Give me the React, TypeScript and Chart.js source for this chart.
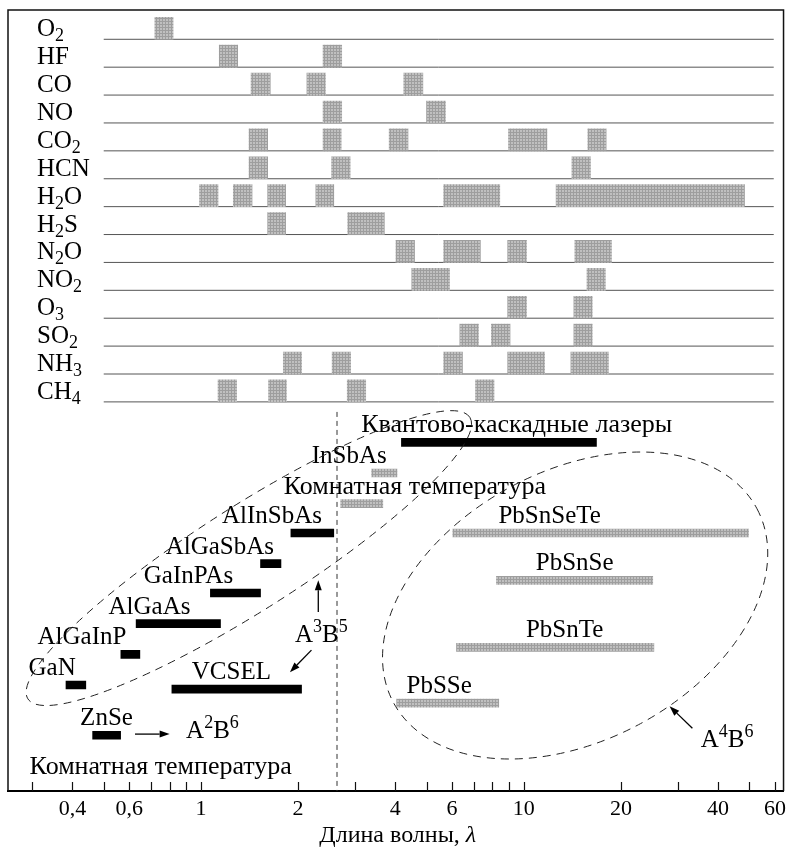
import React, { useEffect, useRef } from 'react';
import { Chart, registerables } from 'chart.js';

Chart.register(...registerables);

const SERIF = "'Liberation Serif', 'DejaVu Serif', serif";

// Wavelength axis, µm
const X_MIN = 0.2526;
const X_MAX = 63.8;
const TICK_VALUES = [0.3, 0.4, 0.5, 0.6, 0.7, 0.8, 0.9, 1, 2, 3, 4, 5, 6, 7, 8, 9, 10, 20, 30, 40, 50, 60];
const LABELLED_TICKS = [0.4, 0.6, 1, 2, 4, 6, 10, 20, 40, 60];

// Absorption bands of gases ("_" marks a subscript)
const GASES = ['O_2', 'HF', 'CO', 'NO', 'CO_2', 'HCN', 'H_2O', 'H_2S', 'N_2O', 'NO_2', 'O_3', 'SO_2', 'NH_3', 'CH_4'];
const GAS_BANDS: [number, number][][] = [
  [[0.72, 0.82]],
  [[1.14, 1.3], [2.39, 2.73]],
  [[1.43, 1.64], [2.13, 2.43], [4.25, 4.87]],
  [[2.39, 2.73], [5.0, 5.72]],
  [[1.41, 1.61], [2.39, 2.72], [3.83, 4.38], [8.97, 11.8], [15.8, 18.0]],
  [[1.41, 1.61], [2.54, 2.9], [14.1, 16.1]],
  [[0.99, 1.13], [1.26, 1.44], [1.61, 1.83], [2.27, 2.58], [5.65, 8.43], [12.6, 48.3]],
  [[1.61, 1.83], [2.85, 3.7]],
  [[4.02, 4.59], [5.65, 7.34], [8.92, 10.2], [14.4, 18.7]],
  [[4.5, 5.89], [15.7, 17.9]],
  [[8.92, 10.2], [14.3, 16.3]],
  [[6.34, 7.24], [7.94, 9.07], [14.3, 16.3]],
  [[1.8, 2.05], [2.55, 2.91], [5.65, 6.46], [8.92, 11.6], [14.0, 18.3]],
  [[1.13, 1.29], [1.62, 1.84], [2.84, 3.24], [7.09, 8.09]],
];
const GAS_LINE_SPAN: [number, number] = [0.5, 59.5];

// Laser emission ranges, µm
const LASERS = [
  'Квантово-каскадные лазеры', 'InSbAs', 'Комнатная температура', 'AlInSbAs', 'AlGaSbAs',
  'GaInPAs', 'AlGaAs', 'AlGaInP', 'GaN', 'VCSEL', 'ZnSe',
  'PbSnSeTe', 'PbSnSe', 'PbSnTe', 'PbSSe',
];
const LASER_FROM = [4.18, 3.38, 2.71, 1.9, 1.53, 1.07, 0.63, 0.565, 0.382, 0.813, 0.462, 6.03, 8.23, 6.19, 4.04];
const LASER_TO = [16.8, 4.05, 3.66, 2.58, 1.77, 1.53, 1.15, 0.647, 0.44, 2.05, 0.564, 49.7, 25.1, 25.3, 8.37];
const LASER_LANE = [15.45, 16.55, 17.65, 18.7, 19.8, 20.85, 21.95, 23.05, 24.15, 24.3, 25.95, 18.7, 20.4, 22.8, 24.8];
const LASER_GREY = [false, true, true, false, false, false, false, false, false, false, false, true, true, true, true];
const LASER_LABEL_AT = [9.51, 2.88, 4.6, 1.66, 1.145, 0.915, 0.693, 0.428, 0.346, 1.243, 0.51, 12.03, 14.38, 13.39, 5.47];

// Room-temperature boundary
const DIVIDER_AT = 2.64;
const DIVIDER_LANES: [number, number] = [14.36, 27.95];

// Group notes, arrows and outlines, in (µm, lane) coordinates
const NOTES = [
  { text: 'A^3B^5', at: [2.36, 22.61] },
  { text: 'A^2B^6', at: [1.086, 26.05] },
  { text: 'A^4B^6', at: [42.66, 26.38] },
  { text: 'Комнатная температура', at: [0.751, 27.34] },
];
const ARROWS = [
  { from: [2.31, 21.53], to: [2.31, 20.39] },
  { from: [2.2, 22.9], to: [1.887, 23.69] },
  { from: [0.625, 25.91], to: [0.8, 25.91] },
  { from: [33.3, 25.7], to: [28.3, 24.91] },
];
const OUTLINES = [
  { center: [1.408, 19.6], rx: 262, ry: 52, rot: -32.5 },
  { center: [14.43, 21.3], rx: 206, ry: 135, rot: -28 },
];

const LANE_MIN = -0.05;
const LANE_MAX = 27.95;
const BAND_LIFT = 0.394;

type Seg = { t: string; k: 0 | 1 | 2 };

function parseMarkup(s: string): Seg[] {
  const out: Seg[] = [];
  for (let i = 0; i < s.length; i++) {
    const c = s[i];
    if ((c === '_' || c === '^') && i + 1 < s.length) {
      out.push({ t: s[i + 1], k: c === '_' ? 1 : 2 });
      i++;
    } else if (out.length && out[out.length - 1].k === 0) {
      out[out.length - 1].t += c;
    } else {
      out.push({ t: c, k: 0 });
    }
  }
  return out;
}

// Cyrillic captions are set a touch larger to match the width of the Latin ones
function sizeFor(s: string, base: number): number {
  return /[А-яЁё]/.test(s) ? base + 1 : base;
}

function drawRich(ctx: CanvasRenderingContext2D, s: string, x: number, y: number, align: 'left' | 'center', base: number) {
  const size = sizeFor(s, base);
  const segs = parseMarkup(s);
  const big = `${size}px ${SERIF}`;
  const small = `${Math.round(size * 0.7)}px ${SERIF}`;
  const widths = segs.map((g) => {
    ctx.font = g.k === 0 ? big : small;
    return ctx.measureText(g.t).width;
  });
  const total = widths.reduce((a, b) => a + b, 0);
  let cx = align === 'center' ? x - total / 2 : x;
  ctx.textAlign = 'left';
  ctx.textBaseline = 'alphabetic';
  segs.forEach((g, i) => {
    ctx.font = g.k === 0 ? big : small;
    const dy = g.k === 1 ? size * 0.2 : g.k === 2 ? -size * 0.4 : 0;
    ctx.fillText(g.t, cx, y + dy);
    cx += widths[i];
  });
}

function makeTexture(): CanvasPattern | string {
  const c = document.createElement('canvas');
  c.width = 3;
  c.height = 3;
  const g = c.getContext('2d');
  if (!g) return '#b0b0b0';
  g.fillStyle = '#c0c0c0';
  g.fillRect(0, 0, 3, 3);
  g.fillStyle = '#9e9e9e';
  g.fillRect(0, 0, 3, 1);
  g.fillRect(0, 0, 1, 3);
  return g.createPattern(c, 'repeat') || '#b0b0b0';
}

const overlay = {
  id: 'overlay',
  afterDatasetsDraw(chart: any) {
    const { ctx, chartArea } = chart;
    const xs = chart.scales.x;
    const ys = chart.scales.y;
    const X = (v: number) => xs.getPixelForValue(v);
    const Y = (v: number) => ys.getPixelForValue(v);
    ctx.save();

    // frame
    ctx.strokeStyle = '#111';
    ctx.lineWidth = 1.5;
    ctx.setLineDash([]);
    ctx.beginPath();
    ctx.moveTo(chartArea.left, chartArea.bottom);
    ctx.lineTo(chartArea.left, chartArea.top);
    ctx.lineTo(chartArea.right, chartArea.top);
    ctx.lineTo(chartArea.right, chartArea.bottom);
    ctx.stroke();

    // inward tick marks
    ctx.lineWidth = 1.2;
    for (const t of xs.ticks) {
      const px = Math.round(X(t.value)) + 0.5;
      ctx.beginPath();
      ctx.moveTo(px, chartArea.bottom);
      ctx.lineTo(px, chartArea.bottom - 9);
      ctx.stroke();
    }

    ctx.fillStyle = '#000';
    // gas names
    GASES.forEach((g, i) => drawRich(ctx, g, chartArea.left + 29, Y(i + 1) - 3, 'left', 25));
    // laser names
    LASERS.forEach((n, i) => drawRich(ctx, n, X(LASER_LABEL_AT[i]), Y(LASER_LANE[i]) - 10, 'center', 25));
    // group notes
    NOTES.forEach((n) => drawRich(ctx, n.text, X(n.at[0]), Y(n.at[1]), 'center', 25));

    // outlines
    ctx.strokeStyle = '#222';
    ctx.lineWidth = 1;
    ctx.setLineDash([8, 6]);
    OUTLINES.forEach((o) => {
      ctx.beginPath();
      ctx.ellipse(X(o.center[0]), Y(o.center[1]), o.rx, o.ry, (o.rot * Math.PI) / 180, 0, Math.PI * 2);
      ctx.stroke();
    });
    ctx.setLineDash([]);

    // arrows
    ctx.strokeStyle = '#000';
    ctx.fillStyle = '#000';
    ctx.lineWidth = 1.3;
    ARROWS.forEach((a) => {
      const x0 = X(a.from[0]);
      const y0 = Y(a.from[1]);
      const x1 = X(a.to[0]);
      const y1 = Y(a.to[1]);
      const ang = Math.atan2(y1 - y0, x1 - x0);
      const len = 10;
      const hw = 3.5;
      const bx = x1 - len * Math.cos(ang);
      const by = y1 - len * Math.sin(ang);
      ctx.beginPath();
      ctx.moveTo(x0, y0);
      ctx.lineTo(bx, by);
      ctx.stroke();
      ctx.beginPath();
      ctx.moveTo(x1, y1);
      ctx.lineTo(bx + hw * Math.sin(ang), by - hw * Math.cos(ang));
      ctx.lineTo(bx - hw * Math.sin(ang), by + hw * Math.cos(ang));
      ctx.closePath();
      ctx.fill();
    });

    // axis title with italic lambda
    const main = 'Длина волны, ';
    ctx.font = `24px ${SERIF}`;
    const w1 = ctx.measureText(main).width;
    ctx.font = `italic 24px ${SERIF}`;
    const w2 = ctx.measureText('λ').width;
    const tx = (chartArea.left + chartArea.right) / 2 + 2 - (w1 + w2) / 2;
    ctx.textAlign = 'left';
    ctx.textBaseline = 'alphabetic';
    ctx.font = `24px ${SERIF}`;
    ctx.fillText(main, tx, 842);
    ctx.font = `italic 24px ${SERIF}`;
    ctx.fillText('λ', tx + w1, 842);

    ctx.restore();
  },
};

function fmt(v: number): string {
  return String(v).replace('.', ',');
}

export default function App() {
  const ref = useRef<HTMLCanvasElement | null>(null);

  useEffect(() => {
    const canvas = ref.current;
    if (!canvas) return;
    const texture = makeTexture();

    const rowLines = GASES.map((_, i) => ({
      type: 'line' as const,
      indexAxis: 'y' as const,
      data: [
        { x: GAS_LINE_SPAN[0], y: i + 1 },
        { x: GAS_LINE_SPAN[1], y: i + 1 },
      ],
      borderColor: '#555',
      borderWidth: 1,
      pointRadius: 0,
      order: 3,
    }));

    const divider = {
      type: 'line' as const,
      indexAxis: 'y' as const,
      data: [
        { x: DIVIDER_AT, y: DIVIDER_LANES[0] },
        { x: DIVIDER_AT, y: DIVIDER_LANES[1] },
      ],
      borderColor: '#333',
      borderWidth: 1,
      borderDash: [5, 4],
      pointRadius: 0,
      order: 3,
    };

    const bands = {
      type: 'bar' as const,
      indexAxis: 'y' as const,
      stack: 'all',
      data: GAS_BANDS.flatMap((list, i) => list.map(([a, b]) => ({ x: [a, b], y: i + 1 - BAND_LIFT }))),
      backgroundColor: texture,
      borderWidth: 0,
      barThickness: 22,
      order: 1,
    };

    const laserIdx = LASERS.map((_, i) => i);
    const lasersDark = {
      type: 'bar' as const,
      indexAxis: 'y' as const,
      stack: 'all',
      data: laserIdx.filter((i) => !LASER_GREY[i]).map((i) => ({ x: [LASER_FROM[i], LASER_TO[i]], y: LASER_LANE[i] })),
      backgroundColor: '#000',
      borderWidth: 0,
      barThickness: 8,
      order: 1,
    };
    const lasersGrey = {
      type: 'bar' as const,
      indexAxis: 'y' as const,
      stack: 'all',
      data: laserIdx.filter((i) => LASER_GREY[i]).map((i) => ({ x: [LASER_FROM[i], LASER_TO[i]], y: LASER_LANE[i] })),
      backgroundColor: texture,
      borderWidth: 0,
      barThickness: 8,
      order: 1,
    };

    const chart = new Chart(canvas, {
      type: 'bar',
      data: { datasets: [...rowLines, divider, bands, lasersDark, lasersGrey] as any },
      options: {
        animation: false,
        responsive: false,
        devicePixelRatio: 1,
        layout: { padding: { left: 8, top: 10, right: 7, bottom: 0 }, autoPadding: false },
        plugins: { legend: { display: false }, tooltip: { enabled: false } },
        scales: {
          x: {
            type: 'logarithmic',
            min: X_MIN,
            max: X_MAX,
            stacked: false,
            offset: false,
            afterBuildTicks: (s: any) => {
              s.ticks = TICK_VALUES.map((v) => ({ value: v }));
            },
            afterFit: (s: any) => {
              s.height = 59;
            },
            grid: { display: true, drawOnChartArea: false, drawTicks: false },
            border: { display: true, color: '#000', width: 2 },
            ticks: {
              autoSkip: false,
              maxRotation: 0,
              minRotation: 0,
              padding: 5,
              color: '#000',
              font: { family: SERIF, size: 22 },
              callback: (v: any) => (LABELLED_TICKS.includes(Number(v)) ? fmt(Number(v)) : ''),
            },
          },
          y: {
            type: 'linear',
            min: LANE_MIN,
            max: LANE_MAX,
            reverse: true,
            stacked: true,
            offset: false,
            display: false,
          },
        },
      } as any,
      plugins: [overlay],
    });

    return () => chart.destroy();
  }, []);

  return (
    <div style={{ position: 'absolute', left: 0, top: 0, width: 791, height: 850, background: '#fff' }}>
      <canvas ref={ref} width={791} height={850} />
    </div>
  );
}
